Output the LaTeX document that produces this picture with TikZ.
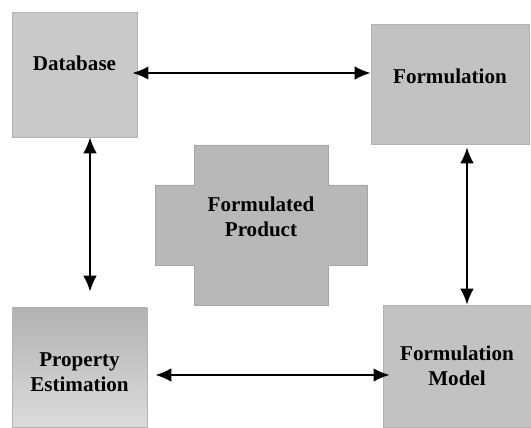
\documentclass[tikz,border=0pt]{standalone}
\usepackage{fontspec}
\setmainfont{Liberation Serif}
\usetikzlibrary{arrows.meta}

\begin{document}
\begin{tikzpicture}[
    line width=1.4pt,
    >={Latex[length=0.4cm,width=0.34cm]},
    box/.style={
        rectangle,
        fill=#1,
        draw=black!30,
        line width=0.4pt,
        inner sep=0pt,
    },
    box/.default=black!21,
    lbl/.style={
        align=center,
        font=\bfseries\fontsize{15}{17.5}\selectfont,
        inner sep=0pt,
    },
    crossfill/.style={
        fill=black!28,
        draw=black!35,
        line width=0.4pt,
    },
]

\useasboundingbox (0,0) rectangle (13.275,10.675);

% the four boxes
\node[box, minimum width=3.125cm, minimum height=3.125cm] (db) at (1.8625,8.8125) {};
\node[box=black!24, minimum width=3.95cm, minimum height=3.0cm] (form) at (11.25,8.575) {};
\node[box=none, top color=black!30, bottom color=black!14,
      minimum width=3.375cm, minimum height=2.975cm] (pe) at (1.9875,1.4875) {};
\node[box=black!24, minimum width=3.7cm, minimum height=3.05cm] (fm) at (11.425,1.525) {};

\node[lbl] (dbl) at ([yshift=0.29cm]db.center) {Database};
\node[lbl] (forml) at ([yshift=0.2cm]form.center) {Formulation};
\node[lbl] (pel) at ([yshift=-0.11cm]pe.center) {Property\\Estimation};
\node[lbl] (fml) at (fm.center) {Formulation\\Model};

% the cross in the middle
\filldraw[crossfill] (4.85,7.05) -- (8.2,7.05) -- (8.2,6.05) -- (9.175,6.05)
    -- (9.175,4.05) -- (8.2,4.05) -- (8.2,3.05) -- (4.85,3.05) -- (4.85,4.05)
    -- (3.875,4.05) -- (3.875,6.05) -- (4.85,6.05) -- cycle;
\node[lbl] (fp) at (6.525,5.26) {Formulated\\Product};

% links
\coordinate (topy) at (0,8.85);
\coordinate (boty) at (0,1.3);
\coordinate (leftx) at (2.25,0);
\coordinate (rightx) at (11.675,0);

\draw[<->, shorten <=-0.12cm] (db.east |- topy) -- (form.west |- topy);
\draw[<->, shorten >=0.4cm] (leftx |- db.south) -- (leftx |- pe.north);
\draw[<->, shorten <=0.2cm, shorten >=-0.17cm] (pe.east |- boty) -- (fm.west |- boty);
\draw[<->, shorten <=0.075cm] (rightx |- form.south) -- (rightx |- fm.north);

\end{tikzpicture}
\end{document}
